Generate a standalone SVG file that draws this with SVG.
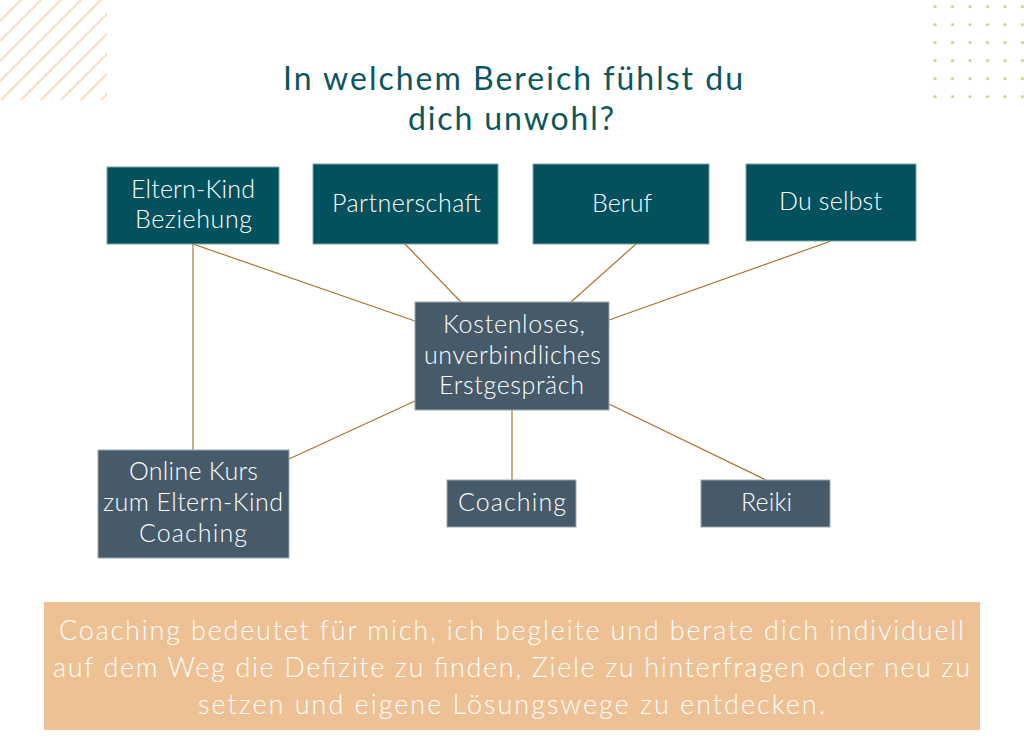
<svg xmlns="http://www.w3.org/2000/svg" width="1024" height="740" viewBox="0 0 1024 740">
<defs>
<style>
.t{font-family:Lato,"Open Sans","Liberation Sans",sans-serif;font-weight:300;fill:#fff;text-anchor:middle;font-size:25px}
.b{font-size:27px}
.teal{fill:#02515c;stroke:#7fa3a8;stroke-width:1}
.slate{fill:#465a6a;stroke:#9aa8b2;stroke-width:1}
.c{stroke:#a8752c;stroke-width:1.2;fill:none}
.s{stroke:#f6d2ad;stroke-width:1.5}
</style>
<clipPath id="cp"><rect x="0" y="0" width="107" height="100"/></clipPath>
<pattern id="dots" x="926" y="-1" width="17.5" height="18" patternUnits="userSpaceOnUse"><circle cx="9" cy="7.7" r="1.6" fill="#d5cc98"/></pattern>
</defs>
<rect width="1024" height="740" fill="#fff"/>
<g id="stripes" clip-path="url(#cp)">
<line class="s" x1="0" y1="21" x2="21" y2="0"/>
<line class="s" x1="0" y1="41" x2="41" y2="0"/>
<line class="s" x1="0" y1="61" x2="61" y2="0"/>
<line class="s" x1="0" y1="81" x2="81" y2="0"/>
<line class="s" x1="0" y1="101" x2="101" y2="0"/>
<line class="s" x1="0" y1="121" x2="121" y2="0"/>
<line class="s" x1="0" y1="141" x2="141" y2="0"/>
<line class="s" x1="0" y1="161" x2="161" y2="0"/>
<line class="s" x1="0" y1="181" x2="181" y2="0"/>
<line class="s" x1="0" y1="201" x2="201" y2="0"/>
</g>
<rect id="dotgrid" x="926" y="0" width="98" height="104" fill="url(#dots)"/>
<g id="title" font-family="Lato,'Open Sans','Liberation Sans',sans-serif" font-weight="400" font-size="32" fill="#0c5660" text-anchor="middle">
<text x="513" y="90" textLength="460" lengthAdjust="spacing">In welchem Bereich fühlst du</text>
<text x="511" y="130" textLength="206" lengthAdjust="spacing">dich unwohl?</text>
</g>
<g id="connectors">
<line class="c" x1="193" y1="244" x2="193" y2="450"/>
<line class="c" x1="193" y1="244" x2="415" y2="321"/>
<line class="c" x1="405" y1="244" x2="461" y2="302"/>
<line class="c" x1="636" y1="244" x2="571" y2="302"/>
<line class="c" x1="831" y1="241" x2="609" y2="320"/>
<line class="c" x1="415" y1="401" x2="289" y2="459"/>
<line class="c" x1="512" y1="410" x2="512" y2="480" stroke="#c9a56f"/>
<line class="c" x1="609" y1="404" x2="766" y2="480"/>
</g>
<g id="n-eltern">
<rect class="teal" x="107" y="167" width="172" height="77"/>
<text class="t" x="193" y="198" textLength="124" lengthAdjust="spacing">Eltern-Kind</text>
<text class="t" x="193.5" y="228" textLength="117" lengthAdjust="spacing">Beziehung</text>
</g>
<g id="n-partner">
<rect class="teal" x="313" y="164" width="185" height="80"/>
<text class="t" x="406.5" y="212" textLength="149" lengthAdjust="spacing">Partnerschaft</text>
</g>
<g id="n-beruf">
<rect class="teal" x="533" y="164" width="176" height="80"/>
<text class="t" x="622" y="212" textLength="60" lengthAdjust="spacing">Beruf</text>
</g>
<g id="n-selbst">
<rect class="teal" x="746" y="164" width="170" height="77"/>
<text class="t" x="830.5" y="210" textLength="103" lengthAdjust="spacing">Du selbst</text>
</g>
<g id="n-center">
<rect class="slate" x="415" y="302" width="194" height="108"/>
<text class="t" x="514" y="333" textLength="142" lengthAdjust="spacing">Kostenloses,</text>
<text class="t" x="512.5" y="364" textLength="177" lengthAdjust="spacing">unverbindliches</text>
<text class="t" x="511.5" y="394" textLength="145" lengthAdjust="spacing">Erstgespräch</text>
</g>
<g id="n-online">
<rect class="slate" x="98" y="450" width="191" height="108"/>
<text class="t" x="193.5" y="480" textLength="129" lengthAdjust="spacing">Online Kurs</text>
<text class="t" x="193" y="511" textLength="180" lengthAdjust="spacing">zum Eltern-Kind</text>
<text class="t" x="193" y="542" textLength="108" lengthAdjust="spacing">Coaching</text>
</g>
<g id="n-coaching">
<rect class="slate" x="447" y="480" width="129" height="47"/>
<text class="t" x="512" y="511" textLength="108" lengthAdjust="spacing">Coaching</text>
</g>
<g id="n-reiki">
<rect class="slate" x="701" y="480" width="129" height="47"/>
<text class="t" x="766.5" y="511" textLength="51" lengthAdjust="spacing">Reiki</text>
</g>
<g id="note">
<rect x="44" y="602" width="936" height="128" fill="#edc193"/>
<text class="t b" x="511.5" y="640" textLength="905" lengthAdjust="spacing">Coaching bedeutet für mich, ich begleite und berate dich individuell</text>
<text class="t b" x="511.5" y="677" textLength="917" lengthAdjust="spacing">auf dem Weg die Defizite zu finden, Ziele zu hinterfragen oder neu zu</text>
<text class="t b" x="511.5" y="714" textLength="627" lengthAdjust="spacing">setzen und eigene Lösungswege zu entdecken.</text>
</g>
</svg>
